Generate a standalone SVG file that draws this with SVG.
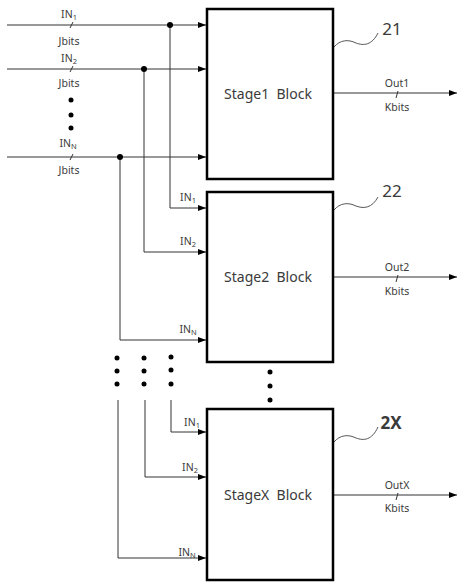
<svg xmlns="http://www.w3.org/2000/svg" width="458" height="583" viewBox="0 0 458 583">
<style>
.blk{fill:#fff;stroke:#000;stroke-width:2.5}
.ln{fill:none;stroke:#333;stroke-width:1}
.sq{fill:none;stroke:#444;stroke-width:0.9}
.t{font-family:"Noto Sans","Open Sans",sans-serif;fill:#3a3a3a;white-space:pre}
.s{font-size:10.5px}
.m{font-size:14px}
.r{font-size:17px}
.d{fill:#000}
</style>
<defs>
<marker id="ah" viewBox="0 0 8 6" refX="8" refY="3" markerWidth="8" markerHeight="6" markerUnits="userSpaceOnUse" orient="auto">
<path d="M0,0 L8,3 L0,6 z" fill="#000"/>
</marker>
</defs>
<g id="connectors">
<path class="ln" d="M7,25 H206" marker-end="url(#ah)"/>
<path class="ln" d="M7,69 H206" marker-end="url(#ah)"/>
<path class="ln" d="M7,157 H206" marker-end="url(#ah)"/>
<path class="ln" d="M170,25 V208 H206" marker-end="url(#ah)"/>
<path class="ln" d="M144,69 V252 H206" marker-end="url(#ah)"/>
<path class="ln" d="M120,157 V340 H206" marker-end="url(#ah)"/>
<path class="ln" d="M171,400 V432 H206" marker-end="url(#ah)"/>
<path class="ln" d="M145,400 V477 H206" marker-end="url(#ah)"/>
<path class="ln" d="M118,400 V558 H206" marker-end="url(#ah)"/>
<path class="ln" d="M334,93 H457" marker-end="url(#ah)"/>
<path class="ln" d="M334,277 H457" marker-end="url(#ah)"/>
<path class="ln" d="M334,495 H457" marker-end="url(#ah)"/>
<circle class="d" cx="170" cy="25" r="3"/>
<circle class="d" cx="144" cy="69" r="3"/>
<circle class="d" cx="120" cy="157" r="3"/>
<path class="ln" d="M70,28 L73,22 M70,72 L73,66 M70,160 L73,154 M396,98 L398,91 M396,282 L398,275 M396,500 L398,493"/>
<path class="sq" d="M334,47 C340,40 348,39 356,43 C364,46 372,45 378,33"/>
<path class="sq" d="M334,210 C340,203 348,202 356,206 C364,209 372,208 378,197"/>
<path class="sq" d="M334,442 C340,435 348,434 356,438 C364,441 372,440 378,427"/>
</g>
<g id="inputs-labels">
<text class="t s" x="69" y="18" text-anchor="middle">IN<tspan font-size="7.5" dy="2">1</tspan></text>
<text class="t s" x="69" y="45" text-anchor="middle">Jbits</text>
<text class="t s" x="69" y="62" text-anchor="middle">IN<tspan font-size="7.5" dy="2">2</tspan></text>
<text class="t s" x="69" y="87" text-anchor="middle">Jbits</text>
<circle class="d" cx="71" cy="100" r="2.5"/>
<circle class="d" cx="71" cy="115" r="2.5"/>
<circle class="d" cx="71" cy="128" r="2.5"/>
<text class="t s" x="68" y="147" text-anchor="middle">IN<tspan font-size="7.5" dy="2">N</tspan></text>
<text class="t s" x="69" y="174" text-anchor="middle">Jbits</text>
</g>
<g id="stage1">
<rect class="blk" x="207" y="9" width="126" height="170"/>
<text class="t m" x="268" y="99" text-anchor="middle">Stage1  Block</text>
<text class="t s" x="397" y="87" text-anchor="middle">Out1</text>
<text class="t s" x="397" y="111" text-anchor="middle">Kbits</text>
<text class="t r" x="392" y="35" text-anchor="middle">21</text>
</g>
<g id="stage2">
<rect class="blk" x="207" y="192" width="126" height="170"/>
<text class="t m" x="268" y="282" text-anchor="middle">Stage2  Block</text>
<text class="t s" x="397" y="271" text-anchor="middle">Out2</text>
<text class="t s" x="397" y="295" text-anchor="middle">Kbits</text>
<text class="t r" x="392" y="197" text-anchor="middle">22</text>
<text class="t s" x="188" y="201" text-anchor="middle">IN<tspan font-size="7.5" dy="2">1</tspan></text>
<text class="t s" x="188" y="245" text-anchor="middle">IN<tspan font-size="7.5" dy="2">2</tspan></text>
<text class="t s" x="188" y="333" text-anchor="middle">IN<tspan font-size="7.5" dy="2">N</tspan></text>
</g>
<g id="ellipsis">
<circle class="d" cx="117" cy="358" r="2.5"/>
<circle class="d" cx="144" cy="358" r="2.5"/>
<circle class="d" cx="171" cy="357" r="2.5"/>
<circle class="d" cx="117" cy="371" r="2.5"/>
<circle class="d" cx="144" cy="371" r="2.5"/>
<circle class="d" cx="171" cy="370" r="2.5"/>
<circle class="d" cx="117" cy="384" r="2.5"/>
<circle class="d" cx="144" cy="384" r="2.5"/>
<circle class="d" cx="171" cy="384" r="2.5"/>
<circle class="d" cx="270" cy="372" r="2.5"/>
<circle class="d" cx="270" cy="386" r="2.5"/>
<circle class="d" cx="270" cy="400" r="2.5"/>
</g>
<g id="stageX">
<rect class="blk" x="207" y="409" width="126" height="171"/>
<text class="t m" x="268" y="500" text-anchor="middle">StageX  Block</text>
<text class="t s" x="397" y="489" text-anchor="middle">OutX</text>
<text class="t s" x="397" y="512" text-anchor="middle">Kbits</text>
<text class="t r" x="391" y="429" text-anchor="middle" font-weight="bold" fill="#111">2X</text>
<text class="t s" x="192" y="426" text-anchor="middle">IN<tspan font-size="7.5" dy="2">1</tspan></text>
<text class="t s" x="190" y="471" text-anchor="middle">IN<tspan font-size="7.5" dy="2">2</tspan></text>
<text class="t s" x="187" y="556" text-anchor="middle">IN<tspan font-size="7.5" dy="2">N</tspan></text>
</g>
</svg>
